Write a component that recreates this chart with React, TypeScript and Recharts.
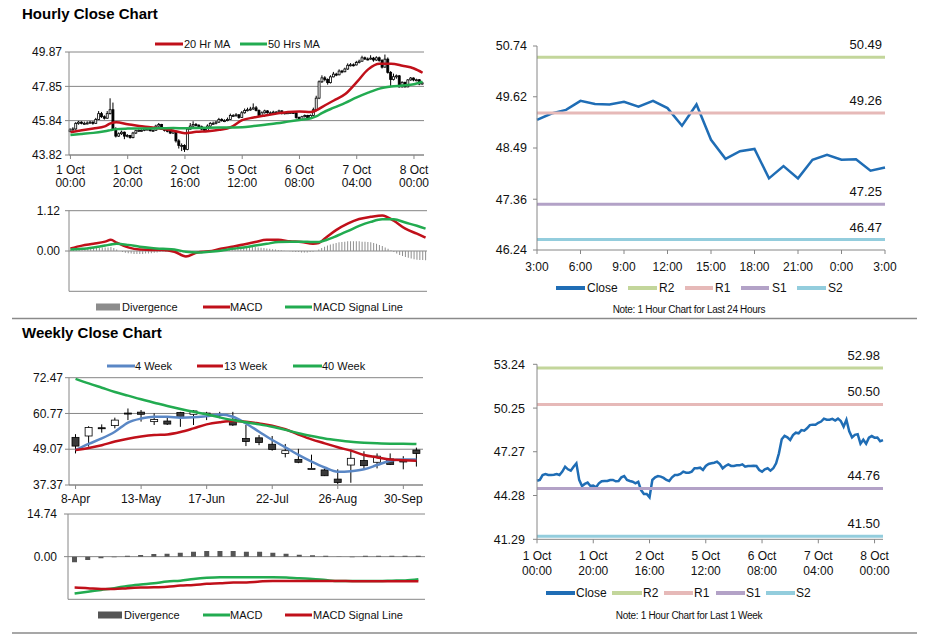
import React from 'react';
import { ComposedChart, LineChart, Line, Bar, XAxis, YAxis, CartesianGrid, ReferenceLine } from 'recharts';

// ---- hourly data (1 Oct 00:00 .. 8 Oct 03:00, trading hours only) ----
const hourOpen = [
  45.20, 45.29, 45.35, 45.68, 45.75, 45.68, 45.68, 45.70, 45.75, 45.68,
  45.91, 46.25, 46.07, 45.98, 46.25, 46.48, 45.35, 44.93, 45.07, 45.16,
  44.93, 44.96, 44.84, 45.11, 45.25, 45.27, 45.27, 45.34, 45.34, 45.25,
  45.27, 45.52, 45.61, 45.34, 45.27, 45.22, 45.11, 45.22, 44.65, 44.38,
  44.38, 44.15, 45.34, 45.52, 45.61, 45.57, 45.48, 45.34, 45.27, 45.52,
  45.68, 45.68, 45.75, 45.91, 45.84, 45.84, 45.91, 46.14, 46.14, 46.18,
  46.02, 46.30, 46.43, 46.48, 46.52, 46.59, 46.43, 46.14, 46.30, 46.41,
  46.30, 46.30, 46.34, 46.34, 46.41, 46.25, 46.30, 46.30, 46.32, 46.30,
  46.02, 45.91, 46.07, 46.14, 45.98, 46.14, 46.48, 47.16, 48.12, 48.35,
  48.25, 48.07, 48.41, 48.57, 48.53, 48.75, 48.71, 48.87, 49.09, 49.12,
  49.11, 49.25, 49.33, 49.53, 49.46, 49.45, 49.51, 49.40, 49.53, 49.37,
  48.98, 49.45, 48.67, 48.25, 48.42, 48.47, 47.82, 48.09, 47.82, 48.23,
  48.34, 48.23, 48.24, 47.99,
];
const hourHigh = [
  45.40, 45.45, 45.75, 45.82, 45.80, 45.78, 45.80, 45.82, 45.80, 46.00,
  46.40, 46.35, 46.15, 46.40, 47.15, 46.90, 45.45, 45.15, 45.25, 45.20,
  45.05, 45.00, 45.18, 45.30, 45.32, 45.33, 45.40, 45.40, 45.38, 45.32,
  45.60, 45.70, 45.65, 45.40, 45.30, 45.28, 45.30, 45.25, 44.75, 44.50,
  44.45, 45.45, 45.70, 45.80, 45.70, 45.62, 45.55, 45.40, 45.62, 45.75,
  45.78, 45.82, 46.00, 45.98, 45.92, 46.02, 46.25, 46.22, 46.28, 46.22,
  46.40, 46.55, 46.60, 46.65, 46.85, 46.70, 46.50, 46.38, 46.48, 46.45,
  46.38, 46.42, 46.40, 46.48, 46.45, 46.35, 46.40, 46.38, 46.40, 46.35,
  46.08, 46.12, 46.20, 46.18, 46.20, 46.60, 47.30, 48.20, 48.50, 48.45,
  48.32, 48.50, 48.70, 48.65, 48.85, 48.82, 48.95, 49.20, 49.22, 49.20,
  49.35, 49.42, 49.65, 49.60, 49.55, 49.68, 49.58, 49.62, 49.60, 49.45,
  49.72, 49.55, 48.75, 48.60, 48.55, 48.52, 48.15, 48.12, 48.28, 48.40,
  48.38, 48.30, 48.28, 48.12,
];
const hourLow = [
  45.15, 45.25, 45.30, 45.60, 45.62, 45.60, 45.62, 45.65, 45.60, 45.65,
  45.88, 46.00, 45.90, 45.95, 46.20, 45.30, 44.85, 44.88, 45.00, 44.75,
  44.85, 44.78, 44.80, 45.05, 45.18, 45.20, 45.22, 45.28, 45.20, 45.20,
  45.25, 45.48, 45.30, 45.20, 45.15, 45.05, 45.05, 44.55, 44.20, 44.05,
  44.00, 44.10, 45.30, 45.45, 45.50, 45.40, 45.28, 45.20, 45.22, 45.48,
  45.60, 45.62, 45.70, 45.78, 45.75, 45.80, 45.88, 46.05, 46.08, 45.95,
  46.00, 46.25, 46.38, 46.42, 46.48, 46.38, 46.08, 46.10, 46.25, 46.25,
  46.22, 46.26, 46.28, 46.30, 46.20, 46.20, 46.25, 46.26, 46.25, 45.95,
  45.85, 45.88, 46.02, 45.92, 45.95, 46.10, 46.45, 47.10, 48.05, 48.15,
  47.95, 48.02, 48.38, 48.45, 48.50, 48.62, 48.68, 48.82, 49.02, 49.02,
  49.08, 49.20, 49.30, 49.40, 49.38, 49.42, 49.30, 49.35, 49.30, 48.90,
  48.95, 48.60, 47.85, 48.20, 48.30, 47.78, 47.78, 47.78, 47.80, 48.18,
  48.15, 48.15, 47.92, 47.95,
];
const hourClose = [
  45.29, 45.35, 45.68, 45.75, 45.68, 45.68, 45.70, 45.75, 45.68, 45.91,
  46.25, 46.07, 45.98, 46.25, 46.48, 45.35, 44.93, 45.07, 45.16, 44.93,
  44.96, 44.84, 45.11, 45.25, 45.27, 45.27, 45.34, 45.34, 45.25, 45.27,
  45.52, 45.61, 45.34, 45.27, 45.22, 45.11, 45.22, 44.65, 44.38, 44.38,
  44.15, 45.34, 45.52, 45.61, 45.57, 45.48, 45.34, 45.27, 45.52, 45.68,
  45.68, 45.75, 45.91, 45.84, 45.84, 45.91, 46.14, 46.14, 46.18, 46.02,
  46.30, 46.43, 46.48, 46.52, 46.59, 46.43, 46.14, 46.30, 46.41, 46.30,
  46.30, 46.34, 46.34, 46.41, 46.25, 46.30, 46.30, 46.32, 46.30, 46.02,
  45.91, 46.07, 46.14, 45.98, 46.14, 46.48, 47.16, 48.12, 48.35, 48.25,
  48.07, 48.41, 48.57, 48.53, 48.75, 48.71, 48.87, 49.09, 49.12, 49.11,
  49.25, 49.33, 49.53, 49.46, 49.45, 49.51, 49.40, 49.53, 49.37, 48.98,
  49.45, 48.67, 48.25, 48.42, 48.47, 47.82, 48.09, 47.82, 48.23, 48.34,
  48.23, 48.24, 47.99, 48.06,
];
const hourDiv = [
  0.02, 0.03, 0.04, 0.05, 0.06, 0.07, 0.07, 0.08, 0.08, 0.09,
  0.09, 0.10, 0.10, 0.10, 0.11, 0.08, 0.04, 0.00, -0.03, -0.05,
  -0.06, -0.07, -0.08, -0.08, -0.08, -0.08, -0.07, -0.07, -0.06, -0.05,
  -0.04, -0.03, -0.02, -0.02, -0.02, -0.02, -0.03, -0.03, -0.04, -0.04,
  -0.04, -0.03, -0.02, -0.01, -0.01, 0.00, 0.00, 0.01, 0.02, 0.03,
  0.04, 0.05, 0.06, 0.07, 0.08, 0.09, 0.09, 0.10, 0.10, 0.11,
  0.11, 0.11, 0.12, 0.12, 0.11, 0.10, 0.09, 0.08, 0.07, 0.06,
  0.05, 0.04, 0.03, 0.02, 0.01, 0.00, -0.01, -0.02, -0.03, -0.03,
  -0.04, -0.04, -0.04, -0.03, -0.02, 0.00, 0.04, 0.08, 0.12, 0.15,
  0.18, 0.20, 0.22, 0.24, 0.25, 0.26, 0.27, 0.27, 0.27, 0.27,
  0.27, 0.26, 0.26, 0.25, 0.24, 0.22, 0.20, 0.17, 0.14, 0.10,
  0.06, 0.02, -0.03, -0.07, -0.11, -0.14, -0.17, -0.19, -0.21, -0.23,
  -0.24, -0.25, -0.25, -0.26,
];
// moving averages / MACD read at these hour indexes
const hourSampleIdx = [0, 4, 8, 12, 14, 16, 20, 24, 28, 32, 36, 40, 44, 48, 52, 56, 60, 64, 68, 72, 76, 80, 84, 86, 88, 92, 96, 100, 104, 108, 112, 116, 120, 123];
const hourMa20 = [45.16, 45.27, 45.38, 45.50, 45.68, 45.74, 45.63, 45.52, 45.45, 45.36, 45.25, 45.10, 45.18, 45.22, 45.30, 45.45, 45.87, 46.02, 46.14, 46.25, 46.35, 46.38, 46.34, 46.45, 46.65, 47.02, 47.40, 48.10, 48.85, 49.18, 49.18, 49.06, 48.90, 48.65];
const hourMa50 = [45.00, 45.06, 45.12, 45.22, 45.28, 45.34, 45.37, 45.38, 45.38, 45.39, 45.40, 45.39, 45.41, 45.42, 45.43, 45.44, 45.45, 45.52, 45.60, 45.68, 45.78, 45.88, 45.98, 46.10, 46.30, 46.60, 46.88, 47.20, 47.48, 47.72, 47.84, 47.90, 47.98, 48.12];
const hourMacd = [0.07, 0.15, 0.20, 0.26, 0.31, 0.23, 0.10, 0.04, 0.03, 0.03, -0.02, -0.15, -0.04, -0.01, 0.06, 0.12, 0.18, 0.25, 0.31, 0.31, 0.27, 0.25, 0.20, 0.22, 0.34, 0.58, 0.76, 0.89, 0.95, 0.99, 0.84, 0.62, 0.48, 0.37];
const hourSignal = [0.04, 0.06, 0.10, 0.15, 0.18, 0.20, 0.17, 0.12, 0.085, 0.06, 0.04, -0.02, -0.04, -0.02, 0.01, 0.06, 0.10, 0.15, 0.20, 0.25, 0.26, 0.26, 0.25, 0.25, 0.29, 0.41, 0.55, 0.70, 0.81, 0.88, 0.88, 0.79, 0.70, 0.62];

const weekTickIdx = [0, 20, 40, 60, 80, 100, 120];
const weekTickLabels = [
  ['1 Oct', '00:00'], ['1 Oct', '20:00'], ['2 Oct', '16:00'], ['5 Oct', '12:00'],
  ['6 Oct', '08:00'], ['7 Oct', '04:00'], ['8 Oct', '00:00'],
];
const hourPriceTicks = [43.82, 45.84, 47.85, 49.87];
const hourMacdTicks = [-1.12, 0, 1.12];

// last 24 hours
const dayStart = 99;
const dayTickIdx = [0, 3, 6, 9, 12, 15, 18, 21, 24];
const dayTickLabels = ['3:00', '6:00', '9:00', '12:00', '15:00', '18:00', '21:00', '0:00', '3:00'];
const dayTicks = [46.24, 47.36, 48.49, 49.62, 50.74];
const dayPivots = [50.49, 49.26, 47.25, 46.47];

const weekLineTicks = [41.29, 44.28, 47.27, 50.25, 53.24];
const weekPivots = [52.98, 50.50, 44.76, 41.50];
const pivotNames = ['R2', 'R1', 'S1', 'S2'];

// ---- weekly data (8-Apr .. 7-Oct) ----
const weekOpen = [52.95, 53.4, 56.1, 56.8, 60.9, 61.2, 58.1, 58.3, 61.1, 60.5, 60.8, 60.3, 58.8, 52.6, 52.8, 50.7, 47.7, 45.75, 42.8, 42.3, 39.3, 43.9, 45.4, 44.8, 45.9, 45.5, 48.8];
const weekHigh = [54.0, 56.6, 57.2, 59.4, 62.4, 61.9, 60.8, 59.7, 61.3, 61.9, 61.3, 61.3, 61.3, 57.0, 53.7, 53.4, 50.8, 49.2, 47.3, 42.8, 42.5, 49.0, 48.4, 47.7, 47.7, 46.8, 49.6];
const weekLow = [47.7, 49.9, 54.5, 55.9, 58.6, 58.1, 57.0, 57.0, 56.4, 57.0, 58.6, 59.2, 56.7, 50.1, 50.4, 48.6, 46.4, 44.5, 42.6, 40.3, 37.6, 38.1, 42.6, 42.8, 43.9, 42.5, 43.4];
const weekClose = [50.1, 56.2, 55.9, 58.6, 60.7, 60.5, 58.8, 57.3, 59.5, 61.6, 60.9, 60.4, 57.0, 51.6, 51.3, 49.0, 48.6, 44.8, 42.8, 40.4, 38.2, 46.1, 43.7, 46.8, 44.1, 44.9, 47.7];
const ma4Week = [48.8, 50.8, 52.6, 54.8, 57.8, 59.1, 59.7, 59.7, 59.4, 59.5, 59.9, 60.4, 59.7, 57.5, 54.8, 52.1, 49.7, 47.2, 45.0, 43.1, 41.7, 41.9, 42.5, 43.9, 45.3, 45.7, 45.7];
const ma13Week = [48.8, 49.5, 50.4, 51.6, 52.5, 53.2, 53.7, 53.9, 54.7, 55.9, 57.2, 57.9, 58.3, 58.1, 57.5, 56.8, 55.6, 53.9, 52.3, 51.0, 49.7, 48.6, 47.2, 46.4, 45.7, 45.5, 45.3];
const ma40Week = [72.1, 70.6, 69.2, 67.8, 66.6, 65.4, 64.3, 63.2, 62.2, 61.3, 60.5, 59.5, 58.6, 57.9, 57.2, 56.4, 55.4, 54.3, 53.4, 52.6, 52.0, 51.5, 51.2, 51.0, 50.9, 50.9, 50.8];
const weekDiv = [-1.96, -1.15, -0.58, -0.23, 0.35, 0.58, 0.92, 1.04, 1.38, 1.73, 1.96, 1.96, 1.96, 1.73, 1.73, 1.38, 1.04, 0.69, 0.46, 0.35, -0.1, -0.2, 0.35, 0.35, 0.35, 0.35, 0.35];
const weekMacd = [-12.7, -12.1, -11.5, -10.9, -10.1, -9.6, -9.2, -8.6, -8.3, -7.7, -7.3, -7.1, -7.1, -7.1, -7.1, -7.1, -7.2, -7.5, -7.7, -8.1, -8.4, -8.4, -8.4, -8.4, -8.3, -8.2, -7.8];
const weekSignal = [-10.7, -10.9, -11.2, -11.2, -10.9, -10.7, -10.6, -10.4, -10.0, -9.8, -9.4, -9.2, -8.9, -8.9, -8.6, -8.4, -8.4, -8.4, -8.4, -8.4, -8.4, -8.5, -8.5, -8.5, -8.5, -8.5, -8.5];
const weeklyTickIdx = [0, 5, 10, 15, 20, 25];
const weeklyTickLabels = ['8-Apr', '13-May', '17-Jun', '22-Jul', '26-Aug', '30-Sep'];
const weeklyPriceTicks = [37.37, 49.07, 60.77, 72.47];
const weeklyMacdTicks = [-14.74, 0, 14.74];

// ---- tables ----
const hourRows = hourClose.map((c, i) => {
  const s = hourSampleIdx.indexOf(i);
  return {
    i,
    open: hourOpen[i], high: hourHigh[i], low: hourLow[i], close: c,
    range: [hourLow[i], hourHigh[i]],
    div: hourDiv[i],
    ma20: s >= 0 ? hourMa20[s] : null,
    ma50: s >= 0 ? hourMa50[s] : null,
    macd: s >= 0 ? hourMacd[s] : null,
    signal: s >= 0 ? hourSignal[s] : null,
  };
});
const dayRows = hourClose.slice(dayStart).map((c, i) => ({ i, close: c }));
const weekRows = weekClose.map((c, i) => ({
  i,
  open: weekOpen[i], high: weekHigh[i], low: weekLow[i], close: c,
  range: [weekLow[i], weekHigh[i]],
  ma4: ma4Week[i], ma13: ma13Week[i], ma40: ma40Week[i],
  div: weekDiv[i], macd: weekMacd[i], signal: weekSignal[i],
}));

const FONT = '"Liberation Sans", Arial, sans-serif';
const GRID = '#868686';
const RED = '#c0101a';
const GREEN = '#22ab50';
const CLOSE_BLUE = '#1f6db5';
const MA4_BLUE = '#5a87c5';
const PIVOT_COLORS = ['#c3d69b', '#e6b9b8', '#b3a2c7', '#93cddd'];
const fmt = (v: number) => v.toFixed(2);
const tickStyle = { fontSize: 12, fill: '#111' };

const Candle = (props: any) => {
  const { x, y, width, height, payload, bodyFill } = props;
  if (!payload) return null;
  const top = height >= 0 ? y : y + height;
  const h = Math.abs(height);
  const span = payload.high - payload.low || 1;
  const k = h / span;
  const cx = x + width / 2;
  const bodyTop = top + (payload.high - Math.max(payload.open, payload.close)) * k;
  const bodyH = Math.max(Math.abs(payload.open - payload.close) * k, 1);
  const up = payload.close >= payload.open;
  return (
    <g>
      <line x1={cx} x2={cx} y1={top} y2={top + h} stroke="#000" strokeWidth={1} />
      <rect x={x} y={bodyTop} width={width} height={bodyH} fill={up ? '#fff' : bodyFill} stroke="#000" strokeWidth={0.8} />
    </g>
  );
};

const multiTick = (getLines: (v: number) => string[], first: number, gap: number) => (p: any) => {
  const lines = getLines(p.payload.value);
  return (
    <text x={p.x} textAnchor="middle" fontSize={12} fill="#111" fontFamily={FONT}>
      {lines.map((l, j) => (
        <tspan key={j} x={p.x} y={p.y + first + j * gap}>{l}</tspan>
      ))}
    </text>
  );
};
const hourLabel = (v: number) => weekTickLabels[weekTickIdx.indexOf(v)] || [];

const pivotLabel = (v: number) => (p: any) => {
  const vb = p.viewBox || {};
  return (
    <text x={vb.x + vb.width - 3} y={vb.y - 8} textAnchor="end" fontSize={13} fill="#111" fontFamily={FONT}>
      {v.toFixed(2)}
    </text>
  );
};

const box = (left: number, top: number): React.CSSProperties => ({ position: 'absolute', left, top });

function HourlyPrice() {
  return (
    <div style={box(0, 40)}>
      <ComposedChart width={440} height={155} data={hourRows} margin={{ top: 12, right: 16, bottom: 0, left: 0 }}>
        <CartesianGrid vertical={false} stroke={GRID} />
        <XAxis dataKey="i" type="category" ticks={weekTickIdx} interval={0} height={40} tickSize={4} tickMargin={4}
          stroke={GRID} tick={multiTick(hourLabel, 10.5, 13.5)} />
        <YAxis type="number" domain={[43.82, 49.87]} ticks={hourPriceTicks} allowDataOverflow width={69}
          tickSize={4} tickMargin={3} stroke={GRID} tick={tickStyle} tickFormatter={fmt} />
        <Bar dataKey="range" barSize={2} isAnimationActive={false} shape={(p: any) => <Candle {...p} bodyFill="#000" />} />
        <Line dataKey="ma20" type="monotone" stroke={RED} strokeWidth={2.5} dot={false} activeDot={false} connectNulls isAnimationActive={false} />
        <Line dataKey="ma50" type="monotone" stroke={GREEN} strokeWidth={2.5} dot={false} activeDot={false} connectNulls isAnimationActive={false} />
      </ComposedChart>
    </div>
  );
}

function HourlyMacd() {
  return (
    <div style={box(0, 200)}>
      <ComposedChart width={430} height={95} data={hourRows} margin={{ top: 10.7, right: 3, bottom: 3.7, left: 0 }}>
        <CartesianGrid vertical={false} stroke={GRID} />
        <XAxis dataKey="i" type="category" hide />
        <YAxis type="number" domain={[-1.12, 1.12]} ticks={hourMacdTicks} allowDataOverflow width={69}
          tickSize={4} tickMargin={5} stroke={GRID} tick={tickStyle} tickFormatter={fmt} />
        <Bar dataKey="div" barSize={1} fill="#8f8f8f" isAnimationActive={false} />
        <Line dataKey="macd" type="monotone" stroke={RED} strokeWidth={2.5} dot={false} activeDot={false} connectNulls isAnimationActive={false} />
        <Line dataKey="signal" type="monotone" stroke={GREEN} strokeWidth={2.5} dot={false} activeDot={false} connectNulls isAnimationActive={false} />
      </ComposedChart>
    </div>
  );
}

function DayLine() {
  return (
    <div style={box(460, 36)}>
      <LineChart width={455} height={246} data={dayRows} margin={{ top: 10, right: 30, bottom: 0, left: 0 }}>
        <XAxis dataKey="i" type="category" scale="point" ticks={dayTickIdx} interval={0} height={32} tickSize={4} tickMargin={4}
          stroke={GRID} tick={multiTick((v) => [dayTickLabels[dayTickIdx.indexOf(v)]], 12.5, 0)} />
        <YAxis type="number" domain={[46.24, 50.74]} ticks={dayTicks} allowDataOverflow width={77}
          tickSize={4} tickMargin={6} stroke={GRID} tick={{ fontSize: 12.5, fill: '#111' }} tickFormatter={fmt} />
        <Line dataKey="close" stroke={CLOSE_BLUE} strokeWidth={2.5} dot={false} activeDot={false} isAnimationActive={false} />
        {dayPivots.map((v, j) => (
          <ReferenceLine key={pivotNames[j]} y={v} stroke={PIVOT_COLORS[j]} strokeWidth={3} label={pivotLabel(v)} />
        ))}
      </LineChart>
    </div>
  );
}

function WeekLine() {
  return (
    <div style={box(460, 338)}>
      <LineChart width={455} height={244} data={hourRows} margin={{ top: 26.3, right: 32, bottom: 0, left: 0 }}>
        <XAxis dataKey="i" type="category" scale="point" ticks={weekTickIdx} interval={0} height={42.7} tickSize={4} tickMargin={4}
          stroke={GRID} tick={multiTick(hourLabel, 12.2, 15)} />
        <YAxis type="number" domain={[41.29, 53.24]} ticks={weekLineTicks} allowDataOverflow width={77}
          tickSize={4} tickMargin={8} stroke={GRID} tick={{ fontSize: 12.5, fill: '#111' }} tickFormatter={fmt} />
        <Line dataKey="close" stroke={CLOSE_BLUE} strokeWidth={2.5} dot={false} activeDot={false} isAnimationActive={false} />
        {weekPivots.map((v, j) => (
          <ReferenceLine key={pivotNames[j]} y={v} stroke={PIVOT_COLORS[j]} strokeWidth={3} label={pivotLabel(v)} />
        ))}
      </LineChart>
    </div>
  );
}

function WeeklyPrice() {
  return (
    <div style={box(0, 370)}>
      <ComposedChart width={440} height={144} data={weekRows} margin={{ top: 7.7, right: 17, bottom: 0, left: 0 }}>
        <CartesianGrid vertical={false} stroke={GRID} />
        <XAxis dataKey="i" type="category" ticks={weeklyTickIdx} interval={0} height={29} tickSize={4} tickMargin={4}
          stroke={GRID} tick={multiTick((v) => [weeklyTickLabels[weeklyTickIdx.indexOf(v)]], 10, 0)} />
        <YAxis type="number" domain={[37.37, 72.47]} ticks={weeklyPriceTicks} allowDataOverflow width={69}
          tickSize={4} tickMargin={2} stroke={GRID} tick={tickStyle} tickFormatter={fmt} />
        <Bar dataKey="range" barSize={7} isAnimationActive={false} shape={(p: any) => <Candle {...p} bodyFill="#3a3a3a" />} />
        <Line dataKey="ma4" type="monotone" stroke={MA4_BLUE} strokeWidth={2.5} dot={false} activeDot={false} isAnimationActive={false} />
        <Line dataKey="ma13" type="monotone" stroke={RED} strokeWidth={2.5} dot={false} activeDot={false} isAnimationActive={false} />
        <Line dataKey="ma40" type="monotone" stroke={GREEN} strokeWidth={2.5} dot={false} activeDot={false} isAnimationActive={false} />
      </ComposedChart>
    </div>
  );
}

function WeeklyMacd() {
  return (
    <div style={box(0, 505)}>
      <ComposedChart width={430} height={100} data={weekRows} margin={{ top: 9, right: 5, bottom: 5.7, left: 0 }}>
        <CartesianGrid vertical={false} stroke={GRID} />
        <XAxis dataKey="i" type="category" hide />
        <YAxis type="number" domain={[-14.74, 14.74]} ticks={weeklyMacdTicks} allowDataOverflow width={68}
          tickSize={4} tickMargin={7} stroke={GRID} tick={tickStyle} tickFormatter={fmt} />
        <Bar dataKey="div" barSize={5} fill="#555555" isAnimationActive={false} />
        <Line dataKey="macd" type="monotone" stroke={GREEN} strokeWidth={2.5} dot={false} activeDot={false} isAnimationActive={false} />
        <Line dataKey="signal" type="monotone" stroke={RED} strokeWidth={2.5} dot={false} activeDot={false} isAnimationActive={false} />
      </ComposedChart>
    </div>
  );
}

type LegendEntry = { label: string; color: string; x: number; w: number; tx: number; kind?: 'box'; thick?: number };

const LegendRow = ({ y, items, size }: { y: number; items: LegendEntry[]; size: number }) => (
  <g>
    {items.map((it) => (
      <g key={it.label}>
        {it.kind === 'box'
          ? <rect x={it.x} y={y - 3.5} width={it.w} height={7} fill={it.color} />
          : <line x1={it.x} x2={it.x + it.w} y1={y} y2={y} stroke={it.color} strokeWidth={it.thick || 3} />}
        <text x={it.tx} y={y} dominantBaseline="central" fontSize={size} fill="#111">{it.label}</text>
      </g>
    ))}
  </g>
);

function Overlay() {
  return (
    <svg width={928} height={638} style={{ position: 'absolute', left: 0, top: 0 }} fontFamily={FONT}>
      <text x={22} y={19} fontSize={15} fontWeight="bold" fill="#000">Hourly Close Chart</text>
      <text x={22} y={338} fontSize={15} fontWeight="bold" fill="#000">Weekly Close Chart</text>
      <line x1={12} x2={917} y1={318.5} y2={318.5} stroke="#8a8a8a" strokeWidth={1.5} />
      <line x1={12} x2={917} y1={633} y2={633} stroke="#8a8a8a" strokeWidth={1.5} />
      <LegendRow y={44} size={11} items={[
        { label: '20 Hr MA', color: RED, x: 155, w: 28, tx: 184 },
        { label: '50 Hrs MA', color: GREEN, x: 240, w: 27, tx: 268 },
      ]} />
      <LegendRow y={307} size={11} items={[
        { label: 'Divergence', color: '#8c8c8c', x: 96, w: 24, tx: 122, kind: 'box' },
        { label: 'MACD', color: RED, x: 203, w: 27, tx: 230 },
        { label: 'MACD Signal Line', color: GREEN, x: 285, w: 27, tx: 313 },
      ]} />
      <LegendRow y={288} size={12} items={[
        { label: 'Close', color: CLOSE_BLUE, x: 556, w: 29, tx: 587, thick: 4 },
        { label: pivotNames[0], color: PIVOT_COLORS[0], x: 628, w: 29, tx: 659, thick: 4 },
        { label: pivotNames[1], color: PIVOT_COLORS[1], x: 685, w: 28, tx: 715, thick: 4 },
        { label: pivotNames[2], color: PIVOT_COLORS[2], x: 741, w: 28, tx: 772, thick: 4 },
        { label: pivotNames[3], color: PIVOT_COLORS[3], x: 797, w: 29, tx: 828, thick: 4 },
      ]} />
      <text x={689} y={309} textAnchor="middle" dominantBaseline="central" fontSize={10} letterSpacing={-0.3} fill="#111">Note: 1 Hour Chart for Last 24 Hours</text>
      <LegendRow y={366} size={11} items={[
        { label: '4 Week', color: MA4_BLUE, x: 107, w: 28, tx: 135 },
        { label: '13 Week', color: RED, x: 197, w: 26, tx: 224 },
        { label: '40 Week', color: GREEN, x: 293, w: 29, tx: 322 },
      ]} />
      <LegendRow y={615} size={11} items={[
        { label: 'Divergence', color: '#555555', x: 98, w: 24, tx: 124, kind: 'box' },
        { label: 'MACD', color: GREEN, x: 203, w: 27, tx: 230 },
        { label: 'MACD Signal Line', color: RED, x: 285, w: 27, tx: 313 },
      ]} />
      <LegendRow y={593} size={12} items={[
        { label: 'Close', color: CLOSE_BLUE, x: 546, w: 29, tx: 576, thick: 4 },
        { label: pivotNames[0], color: PIVOT_COLORS[0], x: 612, w: 30, tx: 643, thick: 4 },
        { label: pivotNames[1], color: PIVOT_COLORS[1], x: 664, w: 29, tx: 694, thick: 4 },
        { label: pivotNames[2], color: PIVOT_COLORS[2], x: 716, w: 29, tx: 746, thick: 4 },
        { label: pivotNames[3], color: PIVOT_COLORS[3], x: 766, w: 29, tx: 796, thick: 4 },
      ]} />
      <text x={689} y={615} textAnchor="middle" dominantBaseline="central" fontSize={10} letterSpacing={-0.3} fill="#111">Note: 1 Hour Chart for Last 1 Week</text>
    </svg>
  );
}

export default function App() {
  return (
    <div style={{ position: 'absolute', left: 0, top: 0, width: 928, height: 638, background: '#fff', fontFamily: FONT }}>
      <Overlay />
      <HourlyPrice />
      <HourlyMacd />
      <DayLine />
      <WeekLine />
      <WeeklyPrice />
      <WeeklyMacd />
    </div>
  );
}
